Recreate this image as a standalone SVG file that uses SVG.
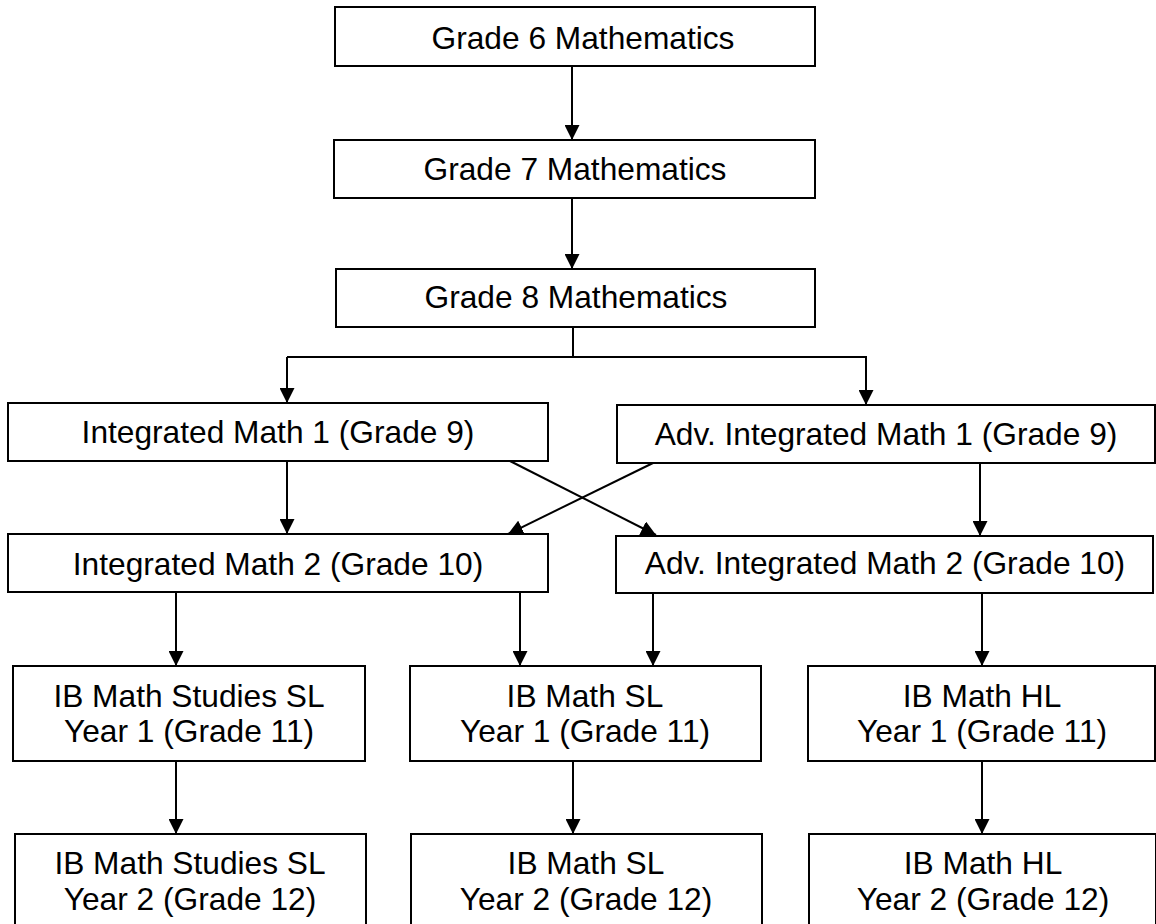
<svg xmlns="http://www.w3.org/2000/svg" width="1156" height="924" viewBox="0 0 1156 924">
<style>
.box{fill:#fff;stroke:#000;stroke-width:2}
.t{font-family:"Liberation Sans",Arial,sans-serif;font-size:31.7px;fill:#000;text-anchor:middle}
.c{fill:none;stroke:#000;stroke-width:2}
</style>
<defs>
<marker id="ah" viewBox="0 0 15 15" markerWidth="15" markerHeight="15" refX="15" refY="7.5" orient="auto" markerUnits="userSpaceOnUse">
<path d="M0,0 L15,7.5 L0,15 z" fill="#000"/>
</marker>
</defs>
<rect width="1156" height="924" fill="#fff"/>
<g id="connectors">
<path class="c" d="M572,66 V140" marker-end="url(#ah)"/>
<path class="c" d="M572,198 V269" marker-end="url(#ah)"/>
<path class="c" d="M573,327 V357"/>
<path class="c" d="M287,357 H867"/>
<path class="c" d="M287,357 V403" marker-end="url(#ah)"/>
<path class="c" d="M866,357 V405" marker-end="url(#ah)"/>
<path class="c" d="M287,461 V534" marker-end="url(#ah)"/>
<path class="c" d="M510,461 L656,535" marker-end="url(#ah)"/>
<path class="c" d="M653,463 L508,534" marker-end="url(#ah)"/>
<path class="c" d="M980,463 V536" marker-end="url(#ah)"/>
<path class="c" d="M176,592 V666" marker-end="url(#ah)"/>
<path class="c" d="M520,592 V666" marker-end="url(#ah)"/>
<path class="c" d="M653,593 V666" marker-end="url(#ah)"/>
<path class="c" d="M982,593 V666" marker-end="url(#ah)"/>
<path class="c" d="M176,761 V834" marker-end="url(#ah)"/>
<path class="c" d="M573,761 V834" marker-end="url(#ah)"/>
<path class="c" d="M982,761 V834" marker-end="url(#ah)"/>
</g>
<g id="grade6"><rect class="box" x="335" y="7" width="480" height="59"/><text class="t" x="583" y="49">Grade 6 Mathematics</text></g>
<g id="grade7"><rect class="box" x="334" y="140" width="481" height="58"/><text class="t" x="575" y="180">Grade 7 Mathematics</text></g>
<g id="grade8"><rect class="box" x="336" y="269" width="479" height="58"/><text class="t" x="576" y="308">Grade 8 Mathematics</text></g>
<g id="im1"><rect class="box" x="8" y="403" width="540" height="58"/><text class="t" x="278" y="443">Integrated Math 1 (Grade 9)</text></g>
<g id="aim1"><rect class="box" x="617" y="405" width="538" height="58"/><text class="t" x="886" y="445">Adv. Integrated Math 1 (Grade 9)</text></g>
<g id="im2"><rect class="box" x="8" y="534" width="540" height="58"/><text class="t" x="278" y="575">Integrated Math 2 (Grade 10)</text></g>
<g id="aim2"><rect class="box" x="616" y="536" width="537" height="57"/><text class="t" x="885" y="574">Adv. Integrated Math 2 (Grade 10)</text></g>
<g id="studies1"><rect class="box" x="13" y="666" width="352" height="95"/><text class="t" x="189" y="707">IB Math Studies SL</text><text class="t" x="189" y="742">Year 1 (Grade 11)</text></g>
<g id="sl1"><rect class="box" x="410" y="666" width="351" height="95"/><text class="t" x="585" y="707">IB Math SL</text><text class="t" x="585" y="742">Year 1 (Grade 11)</text></g>
<g id="hl1"><rect class="box" x="808" y="666" width="347" height="95"/><text class="t" x="982" y="707">IB Math HL</text><text class="t" x="982" y="742">Year 1 (Grade 11)</text></g>
<g id="studies2"><rect class="box" x="15" y="834" width="351" height="100"/><text class="t" x="190" y="874">IB Math Studies SL</text><text class="t" x="190" y="910">Year 2 (Grade 12)</text></g>
<g id="sl2"><rect class="box" x="411" y="834" width="351" height="100"/><text class="t" x="586" y="874">IB Math SL</text><text class="t" x="586" y="910">Year 2 (Grade 12)</text></g>
<g id="hl2"><rect class="box" x="809" y="834" width="347" height="100"/><text class="t" x="983" y="874">IB Math HL</text><text class="t" x="983" y="910">Year 2 (Grade 12)</text></g>
</svg>
